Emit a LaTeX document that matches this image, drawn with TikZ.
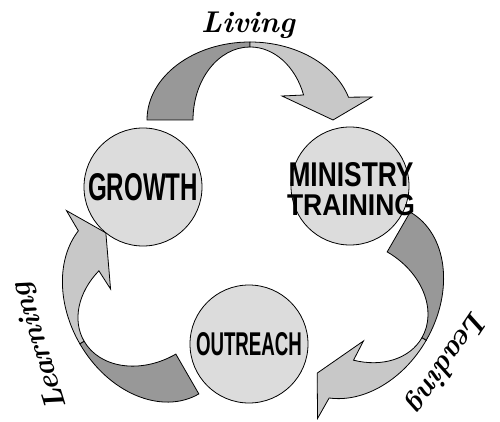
\documentclass[tikz,border=0pt]{standalone}
\usepackage{fontspec}
\newfontfamily\markfont{Liberation Sans}

\definecolor{ringfill}{RGB}{220,220,220}
\definecolor{bandlight}{RGB}{200,200,200}
\definecolor{banddark}{RGB}{152,152,152}

\tikzset{
  stage/.style={circle, draw=black, line width=0.8pt, fill=ringfill, minimum size=118pt, inner sep=0pt, font=\markfont\bfseries},
  stagetext/.style={inner sep=0pt, align=center, font=\markfont\bfseries},
  verb/.style={inner sep=0pt, font=\fontsize{30}{34}\selectfont\bfseries\itshape},
  % one twisted band, drawn round the hub, head pointing clockwise
  cyclearrow/.pic={
    \draw[black, line width=0.8pt, fill=banddark]
      (-105,122) arc[start angle=180, end angle=90, x radius=103pt, y radius=78pt]
      -- (-2,195) arc[start angle=90, end angle=180, x radius=57pt, y radius=73pt] -- cycle;
    \draw[black, line width=0.8pt, fill=bandlight]
      (-2,200) arc[start angle=90, end angle=17, x radius=103pt, y radius=78pt]
      -- (120,145) -- (81,122) -- (30,146) -- (51.6,147)
      arc[start angle=20, end angle=90, x radius=57pt, y radius=73pt] -- cycle;
  }
}

\begin{document}
\begin{tikzpicture}[x=1pt, y=1pt]

  \useasboundingbox (0,0) rectangle (500,421);

  % ---- arrows (behind) ----
  \coordinate (hub) at (252,179);
  \pic at (hub) {cyclearrow};
  \pic[rotate=-120] at (hub) {cyclearrow};
  \pic[rotate=120] at (hub) {cyclearrow};

  % ---- stages ----
  \node[stage] (growth) at (143,234) {\resizebox{110pt}{27pt}{GROWTH}};
  \node[stage] (ministry) at (350,235) {};
  \node[stagetext] (ministry-text) at (351,232)
    {\resizebox{125pt}{24pt}{MINISTRY}\\[7pt]\resizebox{128pt}{21pt}{TRAINING}};
  \node[stage] (outreach) at (249,77) {\resizebox{106pt}{23pt}{OUTREACH}};

  % ---- labels ----
  \node[verb, anchor=base] (living) at (248,388) {Living};
  \node[verb, rotate=236] (leading) at (446,60) {Leading};
  \node[verb, rotate=107] (learning) at (40,75) {Learning};

\end{tikzpicture}
\end{document}
